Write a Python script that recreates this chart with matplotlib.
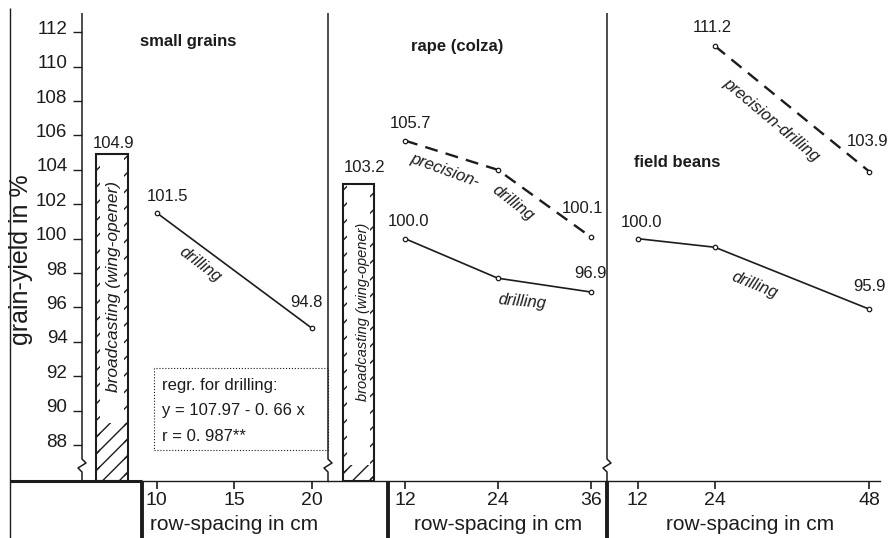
import matplotlib
matplotlib.use("Agg")
import matplotlib.pyplot as plt
import matplotlib.transforms as mtransforms
from matplotlib.lines import Line2D
from matplotlib.patches import Rectangle

plt.rcParams['font.family'] = ['Liberation Sans', 'DejaVu Sans']

# values
grains_x = [10, 20]
grains_drilling = [101.5, 94.8]
grains_broadcast = 104.9

rape_x = [12, 24, 36]
rape_precision = [105.7, 104.0, 100.1]
rape_drilling = [100.0, 97.7, 96.9]
rape_broadcast = 103.2

beans_x = [12, 24, 48]
beans_drilling = [100.0, 99.5, 95.9]
beans_prec_x = [24, 48]
beans_precision = [111.2, 103.9]

yticks = list(range(88, 113, 2))
regr_lines = ["regr. for drilling:", "y = 107.97 - 0. 66 x", "r = 0. 987**"]

W, H = 890, 538
INK = '#1c1c1c'
Y0, Y1 = 85.91, 113.12
TOP, BASE = 13, 481   # pixel rows of panel top / x axis

fig = plt.figure(figsize=(W / 100, H / 100), dpi=100)


def fline(xs, ys, lw):
    # frame line given in image pixels
    fig.add_artist(Line2D([x / W for x in xs], [1 - y / H for y in ys],
                          transform=fig.transFigure, color=INK, lw=lw,
                          solid_capstyle='butt'))


def panel(x0, x1, xlim, xticks, label_x):
    ax = fig.add_axes([x0 / W, 1 - BASE / H, (x1 - x0) / W, (BASE - TOP) / H])
    ax.set_xlim(*xlim)
    ax.set_ylim(Y0, Y1)
    for s in ax.spines.values():
        s.set_visible(False)
    ax.spines['bottom'].set_visible(True)
    ax.spines['bottom'].set_color(INK)
    ax.spines['bottom'].set_linewidth(1.0)
    ax.set_xticks(xticks)
    ax.tick_params(axis='x', direction='out', length=6, width=1.2, pad=2,
                   labelsize=14, colors=INK)
    ax.set_yticks([])
    ax.set_xlabel('row-spacing in cm', fontsize=15, color=INK, va='center')
    ax.xaxis.set_label_coords(label_x, -(525 - BASE) / (BASE - TOP),
                              transform=mtransforms.blended_transform_factory(
                                  ax.transData, ax.transAxes))
    ax.patch.set_alpha(0)
    return ax


def broadcast_bar(ax, xc, width, top, hatch_top, strip):
    ax.bar(xc, hatch_top - Y0, bottom=Y0, width=width, facecolor='none',
           edgecolor=INK, lw=0, hatch='//')
    for xs in (xc - width / 2 + strip / 2, xc + width / 2 - strip / 2):
        ax.bar(xs, top - Y0, bottom=Y0, width=strip, facecolor='none',
               edgecolor=INK, lw=0, hatch='//')
    ax.bar(xc, top - Y0, bottom=Y0, width=width, facecolor='none',
           edgecolor=INK, lw=1.5, zorder=3)


def values(ax, xs, ys, offs):
    for x, y, (dx, dy) in zip(xs, ys, offs):
        if dx is None:
            continue
        ax.annotate(f"{y:.1f}", (x, y), xytext=(dx, dy), textcoords='offset pixels',
                    ha='center', va='center', fontsize=12, color=INK)


def rot_label(ax, x, y, s, rot, size=12):
    ax.text(x, y, s, rotation=rot, rotation_mode='anchor', ha='center',
            va='center', style='italic', fontsize=size, color=INK)


line_kw = dict(color=INK, lw=1.2, marker='o', ms=3.2, mfc='white', mec=INK, mew=0.9)
dash_kw = dict(line_kw, lw=1.7, dashes=(5.5, 3.5))

# small grains
ax1 = panel(82, 328, (5.18, 21.05), grains_x, 15)
ax1.set_xticks([10, 15, 20])
ax1.set_yticks(yticks)
ax1.tick_params(axis='y', direction='out', length=6.5, width=1.0, pad=4,
                labelsize=13.5, colors=INK)
shift = mtransforms.ScaledTranslation(0, 5 / 100, fig.dpi_scale_trans)
for lbl in ax1.get_yticklabels():
    lbl.set_transform(lbl.get_transform() + shift)
ax1.set_ylabel('grain-yield in %', fontsize=18, color=INK, va='center')
ax1.yaxis.set_label_coords(21 / W, 1 - 260 / H, transform=fig.transFigure)

broadcast_bar(ax1, 7.11, 2.07, grains_broadcast, 89.3, 0.28)
ax1.annotate(f"{grains_broadcast:.1f}", (7.11, grains_broadcast), xytext=(2, 11),
             textcoords='offset pixels', ha='center', va='center', fontsize=12, color=INK)
rot_label(ax1, 7.21, 97.19, 'broadcasting (wing-opener)', 90, 12.5)
ax1.plot(grains_x, grains_drilling, **line_kw)
values(ax1, grains_x, grains_drilling, [(11, 16), (-5, 26)])
rot_label(ax1, 12.8, 98.47, 'drilling', -37)
ax1.text(12.02, 111.44, 'small grains', ha='center', va='center',
         fontsize=12, fontweight='bold', color=INK)
ax1.add_patch(Rectangle((9.83, 87.71), 21.05 - 9.83, 92.48 - 87.71, fill=False,
                        ls=':', lw=0.8, ec=INK, clip_on=False))
for yy, s in zip([91.49, 90.03, 88.52], regr_lines):
    ax1.text(10.35, yy, s, ha='left', va='center', fontsize=12, color=INK)

# rape (colza)
ax2 = panel(328, 607, (2.05, 38.1), rape_x, 24)
broadcast_bar(ax2, 6.0, 4.0, rape_broadcast, 86.84, 0.55)
ax2.annotate(f"{rape_broadcast:.1f}", (6.0, rape_broadcast), xytext=(6, 16),
             textcoords='offset pixels', ha='center', va='center', fontsize=12, color=INK)
rot_label(ax2, 6.6, 95.74, 'broadcasting (wing-opener)', 90, 10.5)
ax2.plot(rape_x, rape_precision, **dash_kw)
ax2.plot(rape_x, rape_drilling, **line_kw)
values(ax2, rape_x, rape_precision, [(5, 17), (None, None), (-8, 28)])
values(ax2, rape_x, rape_drilling, [(3, 17), (None, None), (0, 18)])
rot_label(ax2, 17.17, 103.99, 'precision-', -20)
rot_label(ax2, 25.95, 102.08, 'drilling', -38)
rot_label(ax2, 27.1, 96.32, 'drilling', -5)
ax2.text(18.72, 111.15, 'rape (colza)', ha='center', va='center',
         fontsize=12, fontweight='bold', color=INK)

# field beans
ax3 = panel(607, 880, (7.23, 49.66), beans_x, 29.5)
ax3.plot(beans_prec_x, beans_precision, **dash_kw)
ax3.plot(beans_x, beans_drilling, **line_kw)
values(ax3, beans_prec_x, beans_precision, [(-3, 19), (-2, 30)])
values(ax3, beans_x, beans_drilling, [(4, 16), (None, None), (0, 23)])
rot_label(ax3, 32.73, 106.9, 'precision-drilling', -40)
rot_label(ax3, 30.24, 97.31, 'drilling', -22)
ax3.text(18.11, 104.4, 'field beans', ha='center', va='center',
         fontsize=12, fontweight='bold', color=INK)

# frame: outer border, panel dividers with axis-break zigzags, bottom rules
fline([10, 10], [8, H], 1.0)
for x in (82, 328, 607):
    fline([x, x, x + 4, x - 4, x, x], [TOP, 459, 463, 468, 472, BASE], 1.1)
fline([10, 142], [BASE, BASE], 2.2)
for x in (142, 388, 607):
    fline([x, x], [BASE, H], 2.8)

fig.savefig('out.png', dpi=100)
